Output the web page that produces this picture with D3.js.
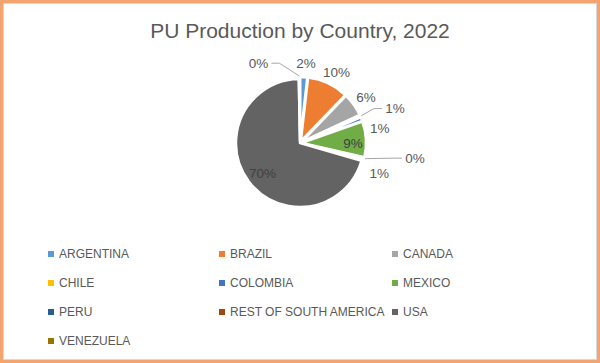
<!DOCTYPE html>
<html>
<head>
<meta charset="utf-8">
<script src="https://cdn.jsdelivr.net/npm/d3@7"></script>
<style>
  body { margin: 0; background: #fff; }
  svg { display: block; font-family: "Liberation Sans", Arial, sans-serif; }
</style>
</head>
<body>
<svg id="chart" width="600" height="363"></svg>
<script>
// data (share of production, %)
var countries = ["ARGENTINA", "BRAZIL", "CANADA", "CHILE", "COLOMBIA", "MEXICO",
                 "PERU", "REST OF SOUTH AMERICA", "USA", "VENEZUELA"];
var shares = [1.8, 10.4, 5.9, 0.5, 1.0, 9.0, 0.3, 0.6, 70.2, 0.3];
var colors = ["#5B9BD5", "#ED7D31", "#A5A5A5", "#FFC000", "#4472C4", "#70AD47",
              "#255E91", "#9E480E", "#636363", "#997300"];

// label placement: radius from centre, angle nudge (deg), leader line?
var labelRad   = [80, 80, 80, 101, 81, 53, 116, 85, 48, 90];
var labelNudge = [1, 2, 1, 4, 11, 4, -6, 6, -1, -27];
var leader     = [false, false, false, true, false, false, true, false, false, true];
var explode    = [2, 2, 2, 2, 2, 2, 2, 2, 0, 2];

var W = 600, H = 363;
var cx = 300, cy = 143, R = 64;

var svg = d3.select("#chart");

// frame
svg.append("rect").attr("x", 1.5).attr("y", 1.5).attr("width", W - 3).attr("height", H - 3)
  .attr("fill", "#fff").attr("stroke", "#F4A46E").attr("stroke-width", 3);
svg.append("rect").attr("x", 3.5).attr("y", 3.5).attr("width", W - 7).attr("height", H - 7)
  .attr("fill", "none").attr("stroke", "#D9D9D9").attr("stroke-width", 1);

// title
svg.append("text")
  .attr("x", W / 2).attr("y", 38)
  .attr("text-anchor", "middle")
  .attr("font-size", "21px")
  .attr("fill", "#595959")
  .text("PU Production by Country, 2022");

var data = countries.map(function (c, i) { return {name: c, value: shares[i], i: i}; });

var pie = d3.pie().sort(null).value(function (d) { return d.value; });
var arcs = pie(data);
var arc = d3.arc().innerRadius(0).outerRadius(R);

function polar(a, r) { return [cx + r * Math.sin(a), cy - r * Math.cos(a)]; }
function mid(d) { return (d.startAngle + d.endAngle) / 2; }

var g = svg.append("g");

g.selectAll("path.slice")
  .data(arcs)
  .enter().append("path")
  .attr("class", "slice")
  .attr("d", arc)
  .attr("transform", function (d) {
    var p = polar(mid(d), explode[d.index]);
    return "translate(" + p[0] + "," + p[1] + ")";
  })
  .attr("fill", function (d) { return colors[d.index]; })
  .attr("stroke", "#fff")
  .attr("stroke-width", 2.5)
  .attr("stroke-linejoin", "round");

// labels
var fmt = d3.format(".0f");
arcs.forEach(function (d) {
  var i = d.index;
  var a = mid(d) + labelNudge[i] * Math.PI / 180;
  var p = polar(a, labelRad[i]);
  var inside = labelRad[i] < R;
  svg.append("text")
    .attr("x", p[0]).attr("y", p[1])
    .attr("dy", "0.35em")
    .attr("text-anchor", "middle")
    .attr("font-size", "13.5px")
    .attr("fill", inside ? "#404040" : "#595959")
    .text(fmt(d.value) + "%");

  if (leader[i]) {
    var right = p[0] > cx;
    var half = 11;
    var end = [p[0] + (right ? -half - 2 : half + 2), p[1]];
    var elbow = [end[0] + (right ? -8 : 8), end[1]];
    var start = polar(mid(d), R + explode[i] + 1);
    svg.append("polyline")
      .attr("points", [start, elbow, end].map(function (q) { return q.join(","); }).join(" "))
      .attr("fill", "none")
      .attr("stroke", "#A6A6A6")
      .attr("stroke-width", 1);
  }
});

// legend, three columns
var colX = [48, 219, 392];
var rowY = [254, 283, 312, 341];
var leg = svg.append("g").selectAll("g")
  .data(data)
  .enter().append("g")
  .attr("transform", function (d, i) {
    return "translate(" + colX[i % 3] + "," + rowY[Math.floor(i / 3)] + ")";
  });

leg.append("rect")
  .attr("x", 0).attr("y", -3).attr("width", 6).attr("height", 6)
  .attr("fill", function (d) { return colors[d.i]; });

leg.append("text")
  .attr("x", 11).attr("y", 0).attr("dy", "0.36em")
  .attr("font-size", "12px")
  .attr("fill", "#595959")
  .text(function (d) { return d.name; });
</script>
</body>
</html>
